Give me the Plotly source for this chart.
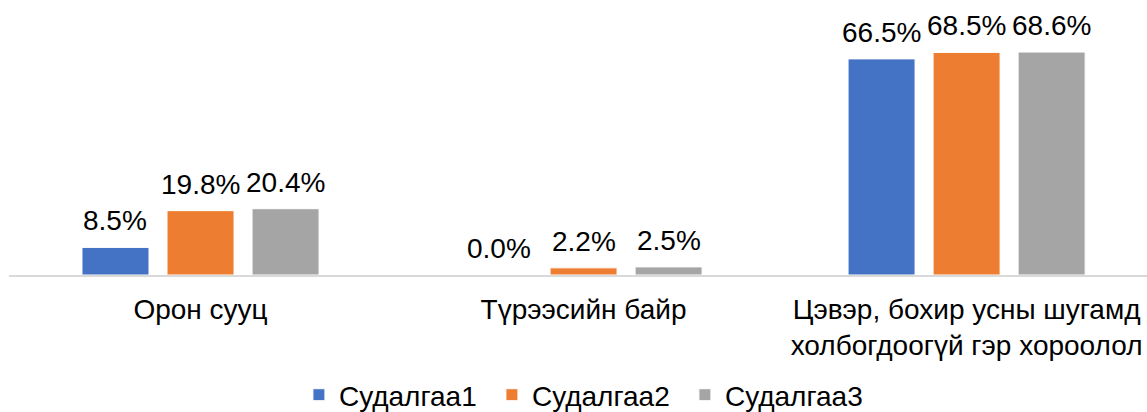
import plotly.graph_objects as go

categories = ["Орон сууц", "Түрээсийн байр", "Цэвэр, бохир усны шугамд<br>холбогдоогүй гэр хороолол"]
series_names = ["Судалгаа1", "Судалгаа2", "Судалгаа3"]
survey1 = [8.5, 0.0, 66.5]
survey2 = [19.8, 2.2, 68.5]
survey3 = [20.4, 2.5, 68.6]
colors = ["#4472C4", "#ED7D31", "#A5A5A5"]

FONT = "Liberation Sans, Arial"
W, H = 1147, 412
ML, MR, MT, MB = 9, 0, 15, 137
XRANGE = [-0.5, 2.471]
BARGAP, BARGROUPGAP = 0.334, 0.212

plot_w = W - ML - MR
cat_px = plot_w / (XRANGE[1] - XRANGE[0])
slot_px = cat_px * (1 - BARGAP) / len(series_names)

fig = go.Figure()
all_series = [survey1, survey2, survey3]
for i, (name, vals, col) in enumerate(zip(series_names, all_series, colors)):
    fig.add_trace(go.Bar(
        x=categories, y=vals, name=name,
        marker=dict(color=col, line=dict(color="white", width=1)),
        cliponaxis=False,
    ))
    for cat, v in zip(categories, vals):
        fig.add_annotation(
            x=cat, y=v, xref="x", yref="y", text=f"{v:.1f}%",
            showarrow=False, xanchor="center", yanchor="bottom",
            xshift=(i - 1) * slot_px, yshift=9,
            font=dict(size=28, color="#000000", family=FONT),
        )

fig.update_layout(
    width=W, height=H,
    margin=dict(l=ML, r=MR, t=MT, b=MB, autoexpand=False),
    paper_bgcolor="white", plot_bgcolor="white",
    barmode="group", bargap=BARGAP, bargroupgap=BARGROUPGAP,
    font=dict(family=FONT, size=28, color="#000000"),
    xaxis=dict(showline=True, linecolor="#D9D9D9", linewidth=2, ticks="",
               tickfont=dict(size=28, color="#000000"), showgrid=False,
               automargin=False, ticklabelstandoff=8, range=XRANGE),
    yaxis=dict(range=[0, 80], visible=False, showgrid=False, zeroline=False,
               automargin=False),
    legend=dict(orientation="h", x=0.513, xanchor="center", xref="container",
                y=17 / 412, yanchor="middle", yref="container",
                font=dict(size=28, color="#000000"), itemwidth=30,
                entrywidth=148, traceorder="normal"),
    showlegend=True,
)

fig.write_html("out.html", config={"displayModeBar": False},
               post_script="document.body.style.margin='0';")
